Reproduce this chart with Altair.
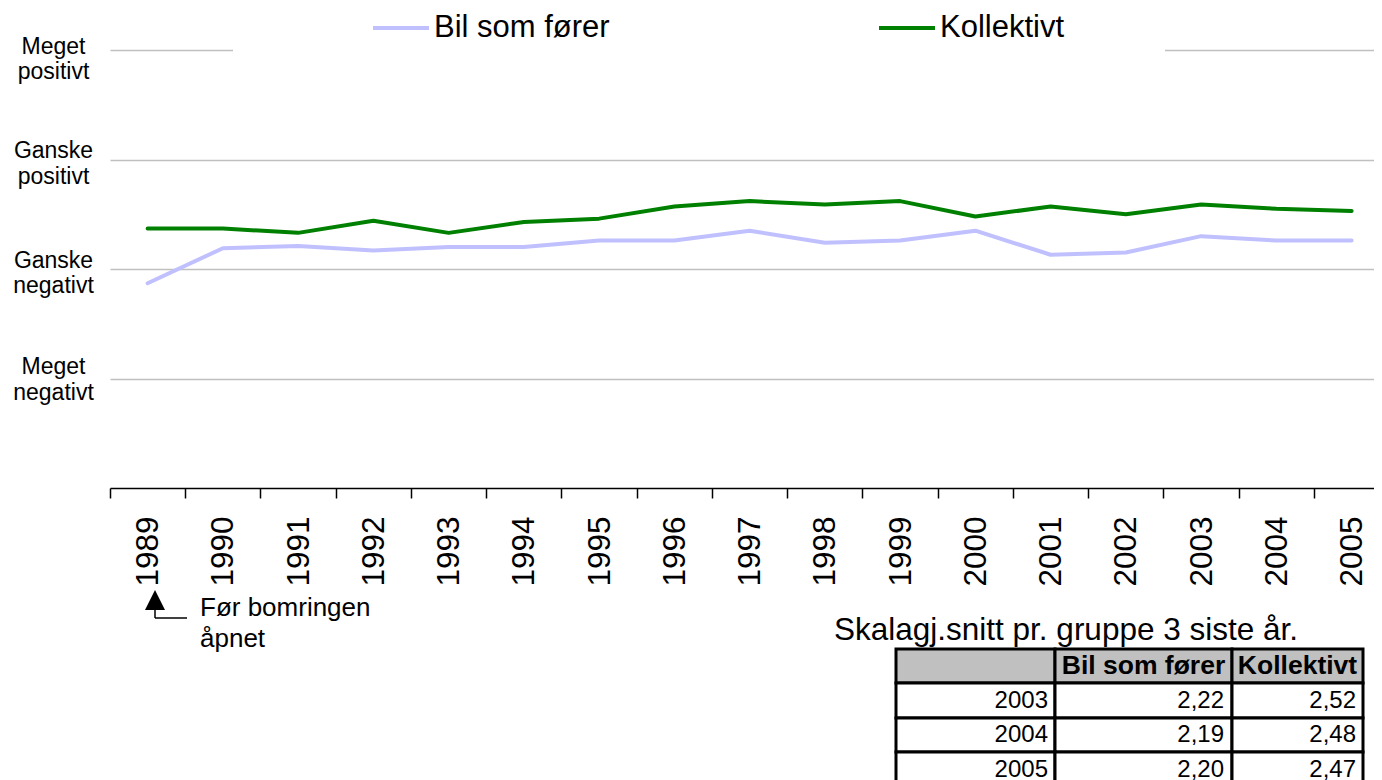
import altair as alt
import pandas as pd

# ---------------- data ----------------
years = [1989, 1990, 1991, 1992, 1993, 1994, 1995, 1996, 1997,
         1998, 1999, 2000, 2001, 2002, 2003, 2004, 2005]
bil_som_forer = [1.87, 2.19, 2.21, 2.17, 2.20, 2.20, 2.26, 2.26, 2.35,
                 2.24, 2.26, 2.35, 2.13, 2.15, 2.30, 2.26, 2.26]
kollektivt = [2.37, 2.37, 2.33, 2.44, 2.33, 2.43, 2.46, 2.57, 2.62,
              2.59, 2.62, 2.48, 2.57, 2.50, 2.59, 2.55, 2.53]
series_names = ["Bil som fører", "Kollektivt"]
level_values = [1, 2, 3, 4]
level_labels = ["Meget negativt", "Ganske negativt", "Ganske positivt", "Meget positivt"]
note_lines = ["Før bomringen", "åpnet"]
table_title = "Skalagj.snitt pr. gruppe 3 siste år."
table_years = [2003, 2004, 2005]
table_bil = [2.22, 2.19, 2.20]
table_koll = [2.52, 2.48, 2.47]

# ---------------- style / layout ----------------
FONT = "Liberation Sans"
series_colors = ["#C0C0FF", "#008000"]
PLOT_W, PLOT_H = 1264, 438
PAD = {"left": 102, "top": 42, "right": 0, "bottom": 292}
STEP = 75.25
x_domain = [years[0] - 0.5, years[0] - 0.5 + PLOT_W / STEP]
TABLE_COLS = [786, 945, 1122, 1253]
TABLE_ROWS = [599, 633, 668, 702, 737]

df = pd.DataFrame({
    "year": years + years,
    "value": bil_som_forer + kollektivt,
    "series": [series_names[0]] * len(years) + [series_names[1]] * len(years),
})

parts = []
for v, lab in zip(level_values, level_labels):
    arr = "[" + ",".join("'" + w + "'" for w in lab.split(" ")) + "]"
    parts.append("datum.value == %d ? %s : " % (v, arr))
label_expr = "".join(parts) + "''"

x_axis = alt.Axis(
    values=years, format="d", title=None, grid=False,
    labelAngle=270, labelAlign="right", labelBaseline="middle",
    labelFontSize=31.5, labelFont=FONT, labelColor="black",
    labelPadding=18, labelOffset=STEP / 2 + 1, tickOffset=-STEP / 2,
    tickSize=10, tickWidth=1.5, tickColor="black",
    domainColor="black", domainWidth=1.5,
    labelFlush=False, labelOverlap=False, labelBound=False,
)
y_axis = alt.Axis(
    values=level_values, labelExpr=label_expr, title=None,
    domain=False, ticks=False, tickSize=0,
    grid=True, gridColor="#C0C0C0", gridWidth=1.5,
    labelFontSize=23, labelFont=FONT, labelColor="black",
    labelAlign="center", labelBaseline="middle",
    labelPadding=57, labelLineHeight=25.5,
    labelOffset={"condition": [{"test": "datum.value == 4", "value": -4},
                               {"test": "datum.value == 1", "value": -12}],
                 "value": -9},
)
legend = alt.Legend(
    orient="none", legendX=123, legendY=-152, direction="horizontal",
    title=" ", titleOrient="left", titleFontSize=1, titlePadding=38,
    symbolType="stroke", symbolSize=3136, symbolStrokeWidth=4,
    labelFontSize=31, labelFont=FONT, labelColor="black", labelOffset=3,
    labelLimit=400, columnPadding=261, gridAlign="all",
    padding=100, fillColor="white",
)

lines = alt.Chart(df).mark_line(strokeWidth=4, strokeCap="round", strokeJoin="round").encode(
    x=alt.X("year:Q", scale=alt.Scale(domain=x_domain, nice=False, zero=False), axis=x_axis),
    y=alt.Y("value:Q", scale=alt.Scale(domain=[0, 4], nice=False, zero=True), axis=y_axis),
    color=alt.Color("series:N", scale=alt.Scale(domain=series_names, range=series_colors), legend=legend),
)

# ---------------- annotation ----------------
note_df = pd.DataFrame({"text": ["\n".join(note_lines)]})
tri = alt.Chart(note_df).mark_point(
    shape="M0,-1L1,1L-1,1Z", size=400, filled=True, color="black", opacity=1, strokeWidth=0
).encode(x=alt.value(45), y=alt.value(550))
vline = alt.Chart(note_df).mark_rule(color="black", strokeWidth=1.5).encode(
    x=alt.value(45), y=alt.value(559), y2=alt.value(568))
hline = alt.Chart(note_df).mark_rule(color="black", strokeWidth=1.5).encode(
    x=alt.value(45), x2=alt.value(77), y=alt.value(568))
note = alt.Chart(note_df).mark_text(
    align="left", baseline="alphabetic", fontSize=26, font=FONT, color="black",
    lineBreak="\n", lineHeight=31,
).encode(x=alt.value(90), y=alt.value(566), text="text:N")

# ---------------- table ----------------
title_df = pd.DataFrame({"text": [table_title]})
ttitle = alt.Chart(title_df).mark_text(
    align="left", baseline="alphabetic", fontSize=31.5, font=FONT, color="black"
).encode(x=alt.value(724), y=alt.value(590), text="text:N")

cells = []
for r in range(len(table_years) + 1):
    for c in range(3):
        cells.append({
            "x0": TABLE_COLS[c], "x1": TABLE_COLS[c + 1],
            "y0": TABLE_ROWS[r], "y1": TABLE_ROWS[r + 1],
            "fill": "#C0C0C0" if r == 0 else "white",
        })
cells_df = pd.DataFrame(cells)
rects = alt.Chart(cells_df).mark_rect(stroke="black", strokeWidth=3).encode(
    x=alt.X("x0:Q", scale=None, axis=None), x2="x1:Q",
    y=alt.Y("y0:Q", scale=None, axis=None), y2="y1:Q",
    fill=alt.Fill("fill:N", scale=None, legend=None),
)

head_df = pd.DataFrame({
    "text": series_names,
    "x": [(TABLE_COLS[1] + TABLE_COLS[2]) / 2, (TABLE_COLS[2] + TABLE_COLS[3]) / 2],
    "y": [(TABLE_ROWS[0] + TABLE_ROWS[1]) / 2] * 2,
})
head = alt.Chart(head_df).mark_text(
    align="center", baseline="middle", fontSize=26.5, fontWeight="bold", font=FONT, color="black"
).encode(x=alt.X("x:Q", scale=None, axis=None), y=alt.Y("y:Q", scale=None, axis=None), text="text:N")

body = []
for i, yr in enumerate(table_years):
    yc = (TABLE_ROWS[i + 1] + TABLE_ROWS[i + 2]) / 2
    body.append({"text": str(yr), "x": TABLE_COLS[1] - 7, "y": yc})
    body.append({"text": ("%.2f" % table_bil[i]).replace(".", ","), "x": TABLE_COLS[2] - 8, "y": yc})
    body.append({"text": ("%.2f" % table_koll[i]).replace(".", ","), "x": TABLE_COLS[3] - 7, "y": yc})
body_df = pd.DataFrame(body)
bodyt = alt.Chart(body_df).mark_text(
    align="right", baseline="middle", fontSize=24, font=FONT, color="black"
).encode(x=alt.X("x:Q", scale=None, axis=None), y=alt.Y("y:Q", scale=None, axis=None), text="text:N")

chart = alt.layer(lines, tri, vline, hline, note, ttitle, rects, head, bodyt).resolve_scale(
    x="independent", y="independent"
).properties(
    width=PLOT_W, height=PLOT_H,
    autosize=alt.AutoSizeParams(type="none"),
    padding=PAD,
    background="white",
).configure_view(stroke=None)

chart.save("out.html", embed_options={"renderer": "svg", "actions": False})
